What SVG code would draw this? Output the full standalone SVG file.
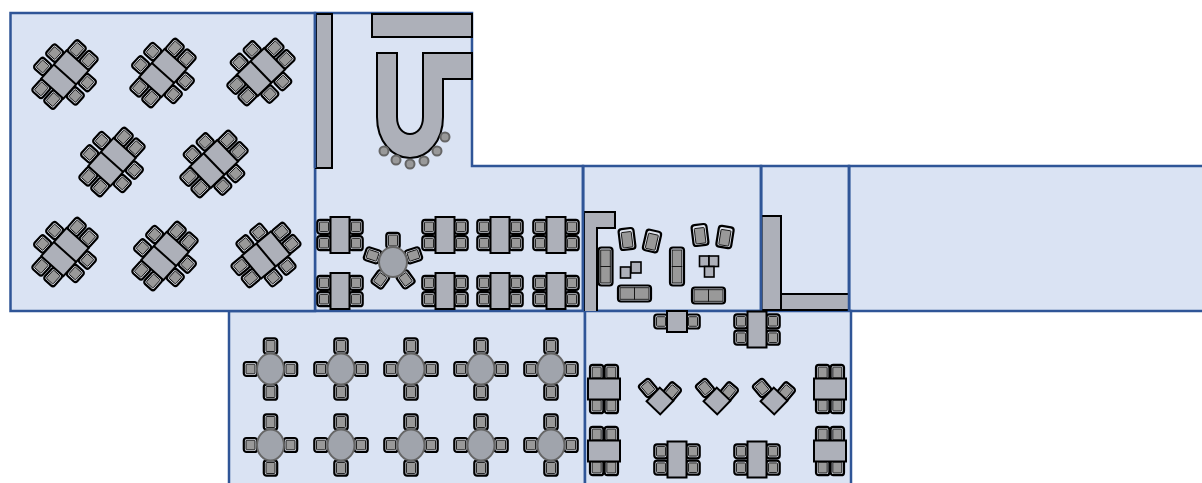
<svg xmlns="http://www.w3.org/2000/svg" xmlns:xlink="http://www.w3.org/1999/xlink" width="1202" height="483" viewBox="0 0 1202 483">
<style>
.room{fill:#dae3f3;stroke:#2f5597;stroke-width:2.5}
.edge{fill:none;stroke:#2f5597;stroke-width:2.5}
.wall{fill:#adb0b9;stroke:#000;stroke-width:2}
.top{fill:#adb0b9;stroke:#000;stroke-width:2}
.co{fill:#dfe3ec;stroke:#000;stroke-width:2.2}
.ci{fill:#999;stroke:#111;stroke-width:0.9}
.rt{fill:#a0a4ac;stroke:#666;stroke-width:2}
.st{fill:#999;stroke:#666;stroke-width:2}
.sq{fill:#adb0b9;stroke:#000;stroke-width:1.6}
</style>
<defs>
<g id="ch"><rect class="co" x="-6.700" y="-7" width="13.400" height="14" rx="2.800"/><rect class="ci" x="-4.500" y="-4.800" width="9" height="9.600" rx="0.800"/></g>
<g id="chv"><rect class="co" x="-6.700" y="-7.700" width="13.400" height="15.400" rx="2.800"/><rect class="ci" x="-4.500" y="-5.500" width="9" height="11" rx="0.800"/></g>
<g id="arm"><rect class="co" x="-7.500" y="-10.500" width="15" height="21" rx="3"/><rect class="ci" x="-5" y="-7" width="10" height="15.500" rx="0.800"/></g>
<g id="sofa"><rect class="co" x="-7" y="-19" width="14" height="38" rx="3"/><rect class="ci" x="-4.800" y="-16.500" width="9.600" height="16.500"/><rect class="ci" x="-4.800" y="0" width="9.600" height="16.500"/></g>
<g id="sofaH"><rect class="co" x="-16.500" y="-8" width="33" height="16" rx="3"/><rect class="ci" x="-14.500" y="-5.800" width="14.500" height="11.600"/><rect class="ci" x="0" y="-5.800" width="14.500" height="11.600"/></g>
<g id="dt"><use xlink:href="#ch" x="22" y="-9"/><use xlink:href="#ch" x="22" y="9"/><use xlink:href="#ch" x="-22" y="-9"/><use xlink:href="#ch" x="-22" y="9"/><use xlink:href="#chv" x="-8" y="-26.500"/><use xlink:href="#chv" x="8" y="-26.500"/><use xlink:href="#chv" x="-8" y="26.500"/><use xlink:href="#chv" x="8" y="26.500"/><rect class="top" x="-15" y="-19" width="30" height="38"/><line x1="-15" x2="15" y1="0" y2="0" stroke="#000" stroke-width="2"/></g>
<g id="t4"><use xlink:href="#ch" x="-16" y="-8.200"/><use xlink:href="#ch" x="-16" y="8.200"/><use xlink:href="#ch" x="16" y="-8.200"/><use xlink:href="#ch" x="16" y="8.200"/><rect class="top" x="-9.500" y="-18" width="19" height="36"/></g>
<g id="t4v"><use xlink:href="#chv" x="-7.300" y="-16.500"/><use xlink:href="#chv" x="7.300" y="-16.500"/><use xlink:href="#chv" x="-7.300" y="16.500"/><use xlink:href="#chv" x="7.300" y="16.500"/><rect class="top" x="-16" y="-10.500" width="32" height="21"/></g>
<g id="t2"><use xlink:href="#ch" x="-16"/><use xlink:href="#ch" x="16"/><rect class="top" x="-10" y="-10.500" width="20" height="21"/></g>
<g id="rd"><use xlink:href="#chv" y="-23"/><use xlink:href="#chv" y="23"/><use xlink:href="#ch" x="-20"/><use xlink:href="#ch" x="20"/><ellipse class="rt" rx="13.500" ry="15.500"/></g>
<g id="cn"><use xlink:href="#chv" transform="translate(-12,-13) rotate(-40)"/><use xlink:href="#chv" transform="translate(12,-9.500) rotate(40)"/><rect class="top" x="-9.500" y="-9.500" width="19" height="19" transform="rotate(44)"/></g>
</defs>
<g id="rooms">
<rect class="room" x="849" y="166" width="360" height="145"/>
<rect class="room" x="761" y="166" width="88" height="145"/>
<rect class="room" x="583" y="166" width="178" height="145"/>
<path class="room" d="M315 13H472V166H583V311H315Z"/>
<rect class="room" x="229" y="311" width="356" height="180"/>
<rect class="room" x="585" y="311" width="266" height="180"/>
<rect class="room" x="10.500" y="13" width="304.500" height="298"/>
</g>
<g id="walls">
<rect class="wall" x="316" y="14" width="16" height="154"/>
<rect class="wall" x="372" y="14" width="100" height="23"/>
<path id="bar" class="wall" d="M377 53H397V117C397 128 403 134 410 134C417 134 423 128 423 117V53H472V79H443V117C443 141 428 158 410 158C392 158 377 141 377 117Z"/>
<path id="bar2" class="wall" d="M584 311V212H615V228H597V311"/>
<rect class="wall" x="761.500" y="216" width="19.500" height="94"/>
<rect class="wall" x="781" y="294" width="68" height="16"/>
<path class="edge" d="M315 13V168M583 166V311M761 166V311M849 166V311"/>
</g>
<g id="stools">
<circle class="st" cx="445" cy="137" r="4.500"/><circle class="st" cx="437" cy="151" r="4.500"/><circle class="st" cx="424" cy="161" r="4.500"/><circle class="st" cx="410" cy="164" r="4.500"/><circle class="st" cx="396" cy="160" r="4.500"/><circle class="st" cx="384" cy="151" r="4.500"/>
</g>
<g id="dining-left">
<use xlink:href="#dt" transform="translate(65,74.500) rotate(42)"/>
<use xlink:href="#dt" transform="translate(163,73) rotate(42)"/>
<use xlink:href="#dt" transform="translate(261,72) rotate(46)"/>
<use xlink:href="#dt" transform="translate(112,162) rotate(42)"/>
<use xlink:href="#dt" transform="translate(214,164) rotate(46)"/>
<use xlink:href="#dt" transform="translate(65,252) rotate(42)"/>
<use xlink:href="#dt" transform="translate(165,256) rotate(42)"/>
<use xlink:href="#dt" transform="translate(266,255) rotate(50)"/>
</g>
<g id="dining-centre">
<use xlink:href="#t4" x="340" y="235"/><use xlink:href="#t4" x="445" y="235"/><use xlink:href="#t4" x="500" y="235"/><use xlink:href="#t4" x="556" y="235"/>
<use xlink:href="#t4" x="340" y="291"/><use xlink:href="#t4" x="445" y="291"/><use xlink:href="#t4" x="500" y="291"/><use xlink:href="#t4" x="556" y="291"/>
<g id="round5" transform="translate(393,262)">
<use xlink:href="#chv" transform="rotate(0) translate(0,-21.500)"/><use xlink:href="#chv" transform="rotate(72) translate(0,-21.500)"/><use xlink:href="#chv" transform="rotate(144) translate(0,-21.500)"/><use xlink:href="#chv" transform="rotate(216) translate(0,-21.500)"/><use xlink:href="#chv" transform="rotate(288) translate(0,-21.500)"/>
<ellipse class="rt" rx="14" ry="15"/>
</g>
</g>
<g id="lounge">
<use xlink:href="#arm" transform="translate(627,239) rotate(-7)"/>
<use xlink:href="#arm" transform="translate(652,241) rotate(13)"/>
<use xlink:href="#arm" transform="translate(700,235) rotate(-7)"/>
<use xlink:href="#arm" transform="translate(725,237) rotate(9)"/>
<use xlink:href="#sofa" x="605.500" y="266.500"/>
<use xlink:href="#sofa" x="677" y="266.500"/>
<use xlink:href="#sofaH" x="634.500" y="293.500"/>
<use xlink:href="#sofaH" x="708.500" y="295.500"/>
<rect class="sq" x="620.500" y="267" width="10" height="11"/><rect class="sq" x="631" y="262" width="10" height="11"/>
<rect class="sq" x="699.500" y="256" width="9.500" height="10.500"/><rect class="sq" x="709" y="256" width="9.500" height="10.500"/><rect class="sq" x="704.500" y="266.500" width="9.500" height="10.500"/>
</g>
<g id="dining-lower-left">
<use xlink:href="#rd" x="270.500" y="369"/><use xlink:href="#rd" x="341" y="369"/><use xlink:href="#rd" x="411" y="369"/><use xlink:href="#rd" x="481" y="369"/><use xlink:href="#rd" x="551" y="369"/>
<use xlink:href="#rd" x="270.500" y="445"/><use xlink:href="#rd" x="341" y="445"/><use xlink:href="#rd" x="411" y="445"/><use xlink:href="#rd" x="481" y="445"/><use xlink:href="#rd" x="551" y="445"/>
</g>
<g id="dining-lower-right">
<use xlink:href="#t2" x="677" y="321.500"/>
<use xlink:href="#t4" x="757" y="329.500"/>
<use xlink:href="#t4v" x="604" y="389"/>
<use xlink:href="#t4v" x="604" y="451"/>
<use xlink:href="#t4v" x="830" y="389"/>
<use xlink:href="#t4v" x="830" y="451"/>
<use xlink:href="#t4" x="677" y="459.500"/>
<use xlink:href="#t4" x="757" y="459.500"/>
<use xlink:href="#cn" x="660" y="401"/><use xlink:href="#cn" x="717" y="401"/><use xlink:href="#cn" x="774" y="401"/>
</g>
</svg>
